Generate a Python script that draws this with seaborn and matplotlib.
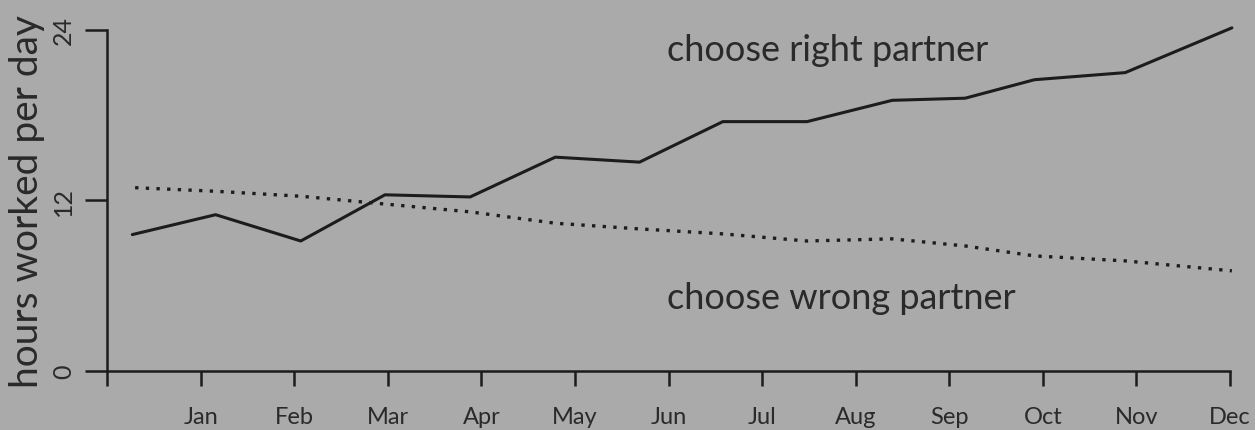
import pandas as pd
import matplotlib.pyplot as plt
import seaborn as sns

# --- data (x in month units, 0 = start of year) ---
months = ["Jan", "Feb", "Mar", "Apr", "May", "Jun",
          "Jul", "Aug", "Sep", "Oct", "Nov", "Dec"]

right_x = [0.27, 1.16, 2.07, 2.97, 3.88, 4.79, 5.69, 6.58, 7.48, 8.39, 9.17, 9.91, 10.88, 12.02]
right_hours = [9.6, 11.0, 9.15, 12.4, 12.25, 15.05, 14.7, 17.55, 17.55, 19.05, 19.2, 20.5, 21.0, 24.15]

wrong_x = [0.3, 1.16, 2.07, 2.97, 3.88, 4.79, 5.69, 6.58, 7.48, 8.39, 9.17, 9.91, 10.88, 12.02]
wrong_hours = [12.9, 12.65, 12.3, 11.75, 11.2, 10.4, 10.0, 9.65, 9.15, 9.3, 8.8, 8.1, 7.75, 7.05]

y_ticks = [0, 12, 24]

right = pd.DataFrame({"month": right_x, "hours": right_hours})
wrong = pd.DataFrame({"month": wrong_x, "hours": wrong_hours})

bg = "#aaaaaa"
ink = "#1c1c1c"
text_col = "#2a2a2a"

sns.set_theme(style="ticks")
plt.rcParams["font.family"] = ["Lato", "DejaVu Sans"]

fig = plt.figure(figsize=(12.55, 4.31), dpi=100, facecolor=bg)
ax = fig.add_axes([0.0853, 0.1369, 0.8948, 0.7912])
ax.set_facecolor(bg)

sns.lineplot(data=right, x="month", y="hours", ax=ax, color=ink,
             linewidth=2.2, clip_on=False)
sns.lineplot(data=wrong, x="month", y="hours", ax=ax, color=ink,
             linewidth=2.4, linestyle=(0, (1, 2.2)), clip_on=False)

ax.set_xlim(0, 12)
ax.set_ylim(0, 24)

ax.set_xticks(range(13))
ax.set_xticklabels([""] + months, fontsize=17)
ax.set_yticks(y_ticks)
ax.set_yticklabels([str(t) for t in y_ticks], fontsize=18,
                   rotation=90, va="center")

ax.tick_params(axis="x", direction="out", length=11, width=1.8, pad=14, colors=ink,
               labelcolor=text_col)
ax.tick_params(axis="y", direction="out", length=16, width=1.8, pad=7, colors=ink,
               labelcolor=text_col)

for side in ["top", "right"]:
    ax.spines[side].set_visible(False)
for side in ["left", "bottom"]:
    ax.spines[side].set_linewidth(1.8)
    ax.spines[side].set_color(ink)

ax.set_xlabel("")
ax.set_ylabel("hours worked per day", fontsize=28, color=text_col, labelpad=5)

ax.text(5.98, 22.6, "choose right partner", fontsize=26, color=text_col,
        ha="left", va="center")
ax.text(5.98, 5.2, "choose wrong partner", fontsize=26, color=text_col,
        ha="left", va="center")

fig.savefig("out.png", dpi=100, facecolor=bg)
